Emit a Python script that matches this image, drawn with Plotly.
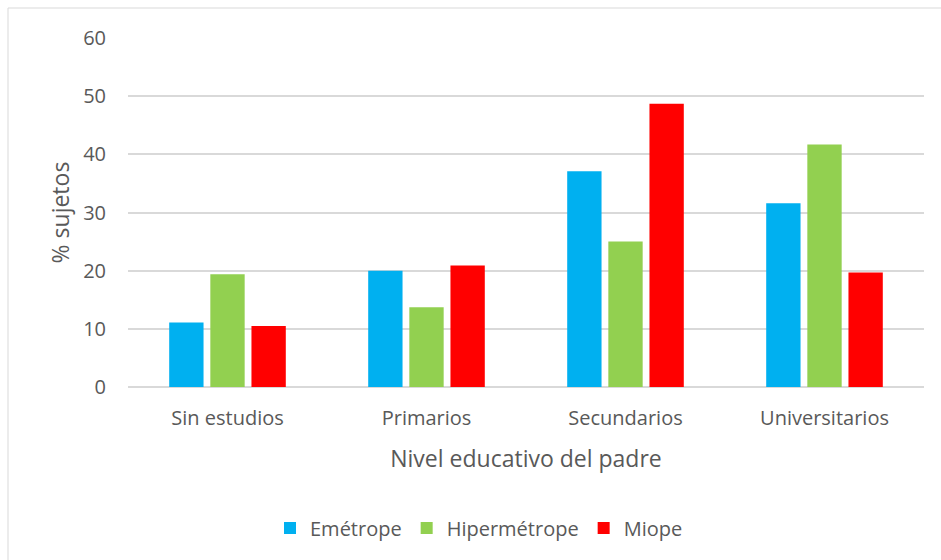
import plotly.graph_objects as go

categories = ["Sin estudios", "Primarios", "Secundarios", "Universitarios"]
emetrope = [11.1, 20.0, 37.1, 31.6]
hipermetrope = [19.4, 13.7, 25.0, 41.7]
miope = [10.5, 20.9, 48.7, 19.7]
series_names = ["Emétrope", "Hipermétrope", "Miope"]
colors = ["#00B0F0", "#92D050", "#FF0000"]
y_ticks = [0, 10, 20, 30, 40, 50, 60]

W, H = 941, 560
L, R, T, B = 128, 17, 38, 173
pw, ph = W - L - R, H - T - B

def px_x(x):
    return (x - L) / pw

def px_y(y):
    return (H - B - y) / ph

fig = go.Figure()
for name, vals, c in zip(series_names, [emetrope, hipermetrope, miope], colors):
    fig.add_trace(go.Bar(x=categories, y=vals, name=name, marker=dict(color=c, line=dict(width=0))))

font_family = "Open Sans, Liberation Sans, sans-serif"
gray = "#595959"

fig.update_layout(
    width=W, height=H,
    margin=dict(l=L, r=R, t=T, b=B),
    paper_bgcolor="white", plot_bgcolor="white",
    barmode="group", bargap=0.38, bargroupgap=0.165,
    font=dict(family=font_family, color=gray, size=20),
    showlegend=True,
    legend=dict(orientation="h", x=px_x(479), y=px_y(528), xanchor="center", yanchor="middle",
                font=dict(size=20, color=gray), itemwidth=30, traceorder="normal"),
    xaxis=dict(showgrid=False, showline=False, ticks="", tickfont=dict(size=20, color=gray),
               ticklabelstandoff=17,
               title=dict(text="Nivel educativo del padre", font=dict(size=23, color=gray), standoff=20)),
    yaxis=dict(range=[0, 60], tickvals=y_ticks, showgrid=True, gridcolor="#d9d9d9", gridwidth=1.5,
               zeroline=True, zerolinecolor="#d9d9d9", zerolinewidth=1.5,
               showline=False, ticks="", tickfont=dict(size=20, color=gray), ticklabelstandoff=21,
               title=dict(text="% sujetos", font=dict(size=23, color=gray), standoff=7)),
    shapes=[dict(type="rect", xref="paper", yref="paper",
                 x0=px_x(8), x1=px_x(W + 20), y0=px_y(H + 20), y1=px_y(8),
                 line=dict(color="#d9d9d9", width=1), fillcolor="rgba(0,0,0,0)", layer="below")],
)

fig.write_html("out.html")
